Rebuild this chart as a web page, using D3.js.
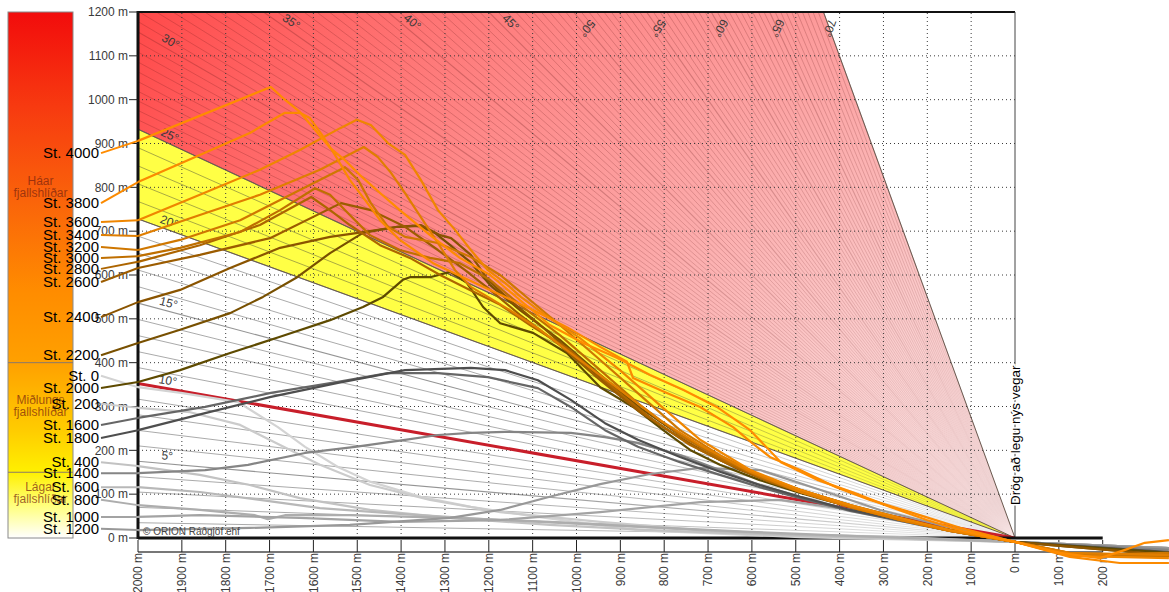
<!DOCTYPE html>
<html><head><meta charset="utf-8">
<script src="https://cdn.jsdelivr.net/npm/d3@7"></script>
<style>
body{margin:0;background:#fff;}
svg{display:block;font-family:"Liberation Sans",Arial,sans-serif;}
</style>
</head><body>
<svg id="c" width="1169" height="592"></svg>
<script>
// ---------------- DATA ----------------
const stations = ["St. 0","St. 200","St. 400","St. 600","St. 800","St. 1000","St. 1200","St. 1400","St. 1600","St. 1800",
  "St. 2000","St. 2200","St. 2400","St. 2600","St. 2800","St. 3000","St. 3200","St. 3400","St. 3600","St. 3800","St. 4000"];

// profiles: [distance from road (m), elevation (m)]
const st0 = [[2000,344],[1902,331],[1772,310],[1681,253],[1619,208],[1544,162],[1469,128],[1355,94],[1241,71],[1088,48],[860,18],[490,2],[0,-9],[-351,-23]];
const st200 = [[2000,297],[1881,287],[1767,258],[1676,212],[1585,167],[1471,121],[1334,87],[1174,59],[946,37],[718,18],[376,2],[0,-9],[-351,-23]];
const st400 = [[2000,164],[1859,144],[1745,121],[1631,91],[1471,64],[1288,46],[1061,30],[832,18],[490,5],[0,-9],[-351,-23]];
const st600 = [[2000,116],[1859,105],[1722,87],[1585,68],[1403,55],[1174,41],[946,30],[718,18],[490,7],[262,2],[0,-9],[-351,-23]];
const st800 = [[2000,75],[1859,64],[1733,52],[1704,43],[1665,52],[1517,52],[1288,46],[1061,37],[832,25],[604,14],[376,5],[0,-9],[-351,-23]];
const st1000 = [[2000,48],[1859,52],[1631,46],[1403,37],[1174,41],[946,59],[718,82],[536,87],[376,64],[217,30],[0,-9],[-351,-23]];
const st1200 = [[2000,18],[1745,23],[1517,30],[1288,46],[1174,64],[1061,94],[946,123],[832,146],[718,160],[582,155],[445,110],[308,64],[171,30],[0,-9],[-351,-23]];
const st1400 = [[2000,148],[1847,155],[1749,167],[1619,194],[1505,208],[1391,224],[1316,235],[1241,240],[1163,242],[1013,240],[935,230],[860,217],[764,189],[673,155],[582,121],[490,94],[376,64],[262,41],[148,18],[0,-9],[-351,-27]];
const st1600 = [[2000,274],[1847,299],[1697,331],[1544,356],[1430,376],[1316,376],[1202,367],[1088,342],[1013,299],[935,246],[860,208],[764,173],[673,144],[582,116],[490,91],[376,62],[262,39],[148,16],[0,-9],[-351,-32]];
const st1800 = [[2000,246],[1847,285],[1697,322],[1544,354],[1391,383],[1241,388],[1163,383],[1088,360],[1013,315],[935,262],[860,224],[764,185],[673,151],[582,121],[490,94],[376,64],[262,41],[148,18],[0,-9],[-351,-32]];
const st2000 = [[2000,356],[1904,383],[1790,422],[1676,459],[1562,497],[1487,527],[1441,550],[1396,589],[1380,595],[1334,595],[1288,607],[1250,582],[1213,527],[1174,490],[1099,468],[1022,422],[946,344],[871,299],[794,240],[741,201],[673,167],[582,132],[490,103],[376,71],[262,43],[148,18],[0,-9],[-351,-34]];
const st2200 = [[2000,445],[1904,475],[1790,513],[1715,550],[1637,595],[1562,650],[1487,696],[1409,710],[1357,712],[1323,696],[1288,668],[1243,630],[1197,577],[1129,520],[1038,452],[946,372],[855,297],[764,235],[673,183],[582,141],[490,110],[376,75],[262,46],[148,18],[0,-9],[-351,-39]];
const st2400 = [[2000,538],[1904,566],[1790,616],[1676,662],[1562,687],[1487,698],[1407,710],[1355,714],[1311,691],[1286,684],[1241,646],[1202,589],[1152,543],[1083,486],[992,406],[901,326],[810,258],[718,201],[627,155],[536,121],[445,91],[331,59],[217,32],[103,9],[0,-9],[-351,-39]];
const st2600 = [[2000,616],[1859,646],[1699,684],[1537,764],[1469,748],[1391,710],[1316,657],[1254,611],[1197,566],[1129,509],[1038,440],[946,360],[855,287],[764,228],[673,178],[582,137],[490,105],[376,71],[262,41],[148,16],[0,-9],[-148,-41],[-351,-41]];
const st2800 = [[2000,630],[1859,668],[1722,714],[1605,778],[1562,748],[1517,714],[1448,668],[1380,639],[1311,600],[1243,566],[1174,532],[1106,486],[1015,429],[924,349],[832,274],[741,212],[650,167],[559,128],[468,98],[353,64],[239,37],[125,14],[0,-9],[-148,-39],[-351,-39]];
const st3000 = [[2000,643],[1904,662],[1767,698],[1676,748],[1596,798],[1562,783],[1517,737],[1471,691],[1403,657],[1334,639],[1266,627],[1197,589],[1129,532],[1038,463],[946,383],[855,303],[764,235],[673,183],[582,139],[490,105],[376,71],[262,41],[148,16],[0,-9],[-148,-41],[-351,-41]];
const st3200 = [[2000,657],[1904,680],[1767,725],[1631,794],[1528,846],[1498,817],[1469,764],[1430,710],[1391,687],[1316,673],[1241,641],[1174,600],[1106,543],[1038,486],[946,406],[855,326],[764,246],[673,189],[582,144],[490,110],[376,75],[262,41],[148,16],[0,-9],[-148,-39],[-351,-34]];
const st3400 = [[2000,689],[1859,737],[1722,783],[1585,840],[1485,892],[1453,869],[1423,833],[1391,787],[1355,732],[1316,673],[1277,611],[1241,573],[1202,550],[1152,520],[1083,475],[992,406],[901,338],[810,269],[718,212],[604,151],[490,105],[376,71],[262,41],[148,16],[0,-9],[-125,-34],[-351,-39]];
const st3600 = [[2000,725],[1859,783],[1722,840],[1631,885],[1539,935],[1501,954],[1469,942],[1430,901],[1391,874],[1355,817],[1316,748],[1277,703],[1241,657],[1202,611],[1163,582],[1127,550],[1065,504],[992,456],[901,383],[810,303],[718,224],[604,155],[490,110],[376,75],[262,46],[148,18],[0,-9],[-125,-41],[-351,-46]];
const st3800 = [[2000,812],[1859,874],[1745,924],[1665,970],[1631,970],[1608,958],[1580,919],[1551,874],[1517,817],[1482,771],[1448,725],[1403,680],[1327,627],[1213,573],[1099,520],[1022,481],[946,436],[885,402],[871,365],[794,331],[718,299],[643,253],[600,217],[559,185],[490,155],[408,116],[331,87],[239,59],[125,23],[0,-9],[-125,-43],[-239,-57],[-351,-57]];
const st4000 = [[2000,906],[1697,1029],[1672,1006],[1631,972],[1596,931],[1562,890],[1528,862],[1494,828],[1448,787],[1403,748],[1334,691],[1266,639],[1197,600],[1129,543],[1061,486],[985,445],[908,411],[832,372],[757,338],[680,299],[604,246],[534,173],[449,132],[367,103],[285,71],[201,41],[119,16],[0,-9],[-103,-34],[-194,-46],[-251,-27],[-296,-11],[-351,-5]];

const profiles = [st0,st200,st400,st600,st800,st1000,st1200,st1400,st1600,st1800,st2000,st2200,st2400,st2600,st2800,st3000,st3200,st3400,st3600,st3800,st4000];

// styles / layout (kept separate from values)
const stationColors = ["#d3d3d3","#cbcbcb","#c2c2c2","#b8b8b8","#adadad","#a3a3a3","#989898","#858585","#666666","#4e4e4e",
  "#5e4a00","#785000","#8a5400","#9c5c00","#ad6500","#bf6f00","#cf7700","#e07e00","#ef8600","#fb8a00","#ff8c00"];
const labelAltitudes = [370,306,173,116,87,48,21,148,258,228,342,417,504,584,614,639,664,691,721,764,878];

const distanceTicks = d3.range(-200, 2001, 100);
const heightTicks = d3.range(0, 1201, 100);
const angleLabels = [5,10,15,20,25,30,35,40,45,50,55,60,65,70];
const zoneBounds = [150, 400];
const zoneNames = [["Háar","fjallshlíðar"],["Miðlungs","fjallshlíðar"],["Lágar","fjallshlíðar"]];
const zoneLabelAlt = [801, 301, 103];
const roadLabel = "Drög að legu nýs vegar";
const copyright = "© ORION Ráðgjöf ehf";

// ---------------- CHART ----------------
const svg = d3.select("#c");
const x = d3.scaleLinear().domain([2000, 0]).range([138, 1015]);
const y = d3.scaleLinear().domain([0, 1200]).range([538, 12]);
const rad = a => a * Math.PI / 180;
const fanEnd = a => { const t = Math.tan(rad(a)); return 2000 * t <= 1200 ? [2000, 2000 * t] : [1200 / t, 1200]; };

const defs = svg.append("defs");
const lg = defs.append("linearGradient").attr("id","legG").attr("x1",0).attr("y1",0).attr("x2",0).attr("y2",1);
[[0,"#f20c0c"],[0.18,"#f73a10"],[0.36,"#fa640a"],[0.53,"#ff8c00"],[0.665,"#ffa000"],[0.795,"#ffcc00"],[0.875,"#fff000"],[0.94,"#ffff80"],[1,"#ffffff"]]
  .forEach(s => lg.append("stop").attr("offset", s[0]).attr("stop-color", s[1]));
const rg = defs.append("radialGradient").attr("id","redG").attr("gradientUnits","userSpaceOnUse")
  .attr("cx", x(0)).attr("cy", y(0)).attr("r", 1030);
[[0,"#fcecec"],[0.25,"#fbcaca"],[0.45,"#fca8a8"],[0.65,"#fe8888"],[0.85,"#ff6464"],[1,"#ff4848"]]
  .forEach(s => rg.append("stop").attr("offset", s[0]).attr("stop-color", s[1]));
// fade of the slope lines towards the road point
const fg = defs.append("radialGradient").attr("id","fadeG").attr("gradientUnits","userSpaceOnUse")
  .attr("cx", x(0)).attr("cy", y(0)).attr("r", 1030);
[[0,"#000"],[0.04,"#333"],[0.3,"#bbb"],[0.55,"#fff"],[1,"#fff"]]
  .forEach(s => fg.append("stop").attr("offset", s[0]).attr("stop-color", s[1]));
defs.append("mask").attr("id","fadeM").attr("maskUnits","userSpaceOnUse")
  .attr("x",0).attr("y",0).attr("width",1169).attr("height",592)
  .append("rect").attr("width",1169).attr("height",592).attr("fill","url(#fadeG)");
defs.append("clipPath").attr("id","frame").append("rect")
  .attr("x", x(2000)).attr("y", y(1200)).attr("width", x(0)-x(2000)).attr("height", y(0)-y(1200));

svg.append("rect").attr("width",1169).attr("height",592).attr("fill","#fff");

// legend column
const leg = svg.append("g");
leg.append("rect").attr("x",8).attr("y",y(1200)).attr("width",65).attr("height",y(0)-y(1200))
  .attr("fill","url(#legG)").attr("stroke","#8a8a8a").attr("stroke-width",1);
zoneBounds.forEach(b => leg.append("line").attr("x1",8).attr("x2",73).attr("y1",y(b)).attr("y2",y(b))
  .attr("stroke","#8a7a6a").attr("stroke-width",1));
zoneNames.forEach((nm,i) => {
  nm.forEach((t,j) => leg.append("text").attr("x",40.5).attr("y", y(zoneLabelAlt[i]) + (j - 0.5) * 12)
    .attr("dy","0.35em").attr("text-anchor","middle").attr("font-size",12)
    .attr("fill","rgba(120,35,15,0.72)").text(t));
});

// zones
const plot = svg.append("g").attr("clip-path","url(#frame)");
const t25 = Math.tan(rad(25)), t20 = Math.tan(rad(20)), t70 = Math.tan(rad(70));
const poly = d3.line().x(p => x(p[0])).y(p => y(p[1]));
plot.append("path").attr("d", poly([[0,0],[2000,2000*t25],[2000,1200],[1200/t70,1200]]) + "Z").attr("fill","url(#redG)");
plot.append("path").attr("d", poly([[0,0],[2000,2000*t20],[2000,2000*t25]]) + "Z").attr("fill","#ffff45");

// fan of slope lines
const fanAngles = [];
for (let a = 1; a <= 70; a += (a >= 25 ? 0.5 : 1)) fanAngles.push(a);
const fanG = plot.append("g").attr("mask","url(#fadeM)");
fanG.selectAll("line.fan").data(fanAngles).join("line").attr("class","fan")
  .attr("x1", x(0)).attr("y1", y(0))
  .attr("x2", a => x(fanEnd(a)[0])).attr("y2", a => y(fanEnd(a)[1]))
  .attr("stroke", a => a > 25 ? "rgba(100,25,25,0.28)" : "rgba(60,60,60,0.55)")
  .attr("stroke-width", a => a % 5 === 0 ? 1.1 : 0.8);
[20,25,70].forEach(a => plot.append("line").attr("x1",x(0)).attr("y1",y(0))
  .attr("x2",x(fanEnd(a)[0])).attr("y2",y(fanEnd(a)[1])).attr("stroke","#6a5a50").attr("stroke-width",1));

// dotted grid
distanceTicks.filter(d => d > 0 && d < 2000).forEach(d => plot.append("line")
  .attr("x1",x(d)).attr("x2",x(d)).attr("y1",y(0)).attr("y2",y(1200))
  .attr("stroke","#3a3a3a").attr("stroke-width",1).attr("stroke-dasharray","1,3"));
heightTicks.filter(h => h > 0 && h < 1200).forEach(h => plot.append("line")
  .attr("x1",x(2000)).attr("x2",x(0)).attr("y1",y(h)).attr("y2",y(h))
  .attr("stroke","#3a3a3a").attr("stroke-width",1).attr("stroke-dasharray","1,3"));

// 10 degree line
plot.append("line").attr("x1",x(0)).attr("y1",y(0)).attr("x2",x(fanEnd(10)[0])).attr("y2",y(fanEnd(10)[1]))
  .attr("stroke","#c81e2a").attr("stroke-width",3);

// angle labels
angleLabels.forEach(a => {
  const t = Math.tan(rad(a));
  const p = 1935 * t <= 1160 ? [1935, 1935 * t] : [1163 / t, 1163];
  const rot = a <= 45 ? a : 180 - a;
  svg.append("text").attr("transform", `translate(${x(p[0])},${y(p[1])}) rotate(${rot})`)
    .attr("dy", a <= 45 ? -4 : 4).attr("text-anchor","middle").attr("font-size",12).attr("fill","#3a3a3a").text(a + "°");
});

// frame
svg.append("line").attr("x1",x(2000)).attr("x2",x(0)).attr("y1",y(1200)).attr("y2",y(1200)).attr("stroke","#111").attr("stroke-width",2);
svg.append("line").attr("x1",x(2000)).attr("x2",x(2000)).attr("y1",y(1200)-1).attr("y2",y(0)+1).attr("stroke","#111").attr("stroke-width",3);
svg.append("line").attr("x1",x(0)).attr("x2",x(0)).attr("y1",y(1200)).attr("y2",y(0)).attr("stroke","#444").attr("stroke-width",1);
svg.append("line").attr("x1",x(2000)).attr("x2",x(-200)).attr("y1",y(0)).attr("y2",y(0)).attr("stroke","#111").attr("stroke-width",3);

// y axis
heightTicks.forEach(h => {
  svg.append("line").attr("x1",129).attr("x2",x(2000)).attr("y1",y(h)).attr("y2",y(h)).attr("stroke","#222").attr("stroke-width",1);
  svg.append("text").attr("x",128).attr("y",y(h)).attr("dy","0.35em").attr("text-anchor","end")
    .attr("font-size",12).attr("fill","#3a3a3a").text(h + " m");
});

// x axis
const xAxisY = 552;
svg.append("line").attr("x1",x(2000)).attr("x2",x(-200)).attr("y1",xAxisY).attr("y2",xAxisY).attr("stroke","#777").attr("stroke-width",2);
distanceTicks.forEach(d => {
  svg.append("line").attr("x1",x(d)).attr("x2",x(d)).attr("y1",y(0)+2).attr("y2",xAxisY).attr("stroke","#222").attr("stroke-width",1);
  svg.append("text").attr("transform",`translate(${x(d)},${xAxisY+1}) rotate(-90)`)
    .attr("dy","0.35em").attr("text-anchor","end").attr("font-size",12).attr("fill","#3a3a3a").text(Math.abs(d) + " m");
});

// profiles
const line = d3.line().x(p => x(p[0])).y(p => y(p[1]));
profiles.forEach((pr, i) => {
  svg.append("path").attr("d", line(pr)).attr("fill","none").attr("stroke", stationColors[i])
    .attr("stroke-width", 2.2).attr("stroke-linejoin","round");
});

// station labels + leaders
profiles.forEach((pr, i) => {
  svg.append("line").attr("x1",101).attr("y1",y(labelAltitudes[i])).attr("x2",x(pr[0][0])).attr("y2",y(pr[0][1]))
    .attr("stroke",stationColors[i]).attr("stroke-width",2);
});
profiles.forEach((pr, i) => {
  svg.append("text").attr("x",99).attr("y",y(labelAltitudes[i])).attr("dy","0.35em").attr("text-anchor","end")
    .attr("font-size",15).attr("fill","#000").text(stations[i]);
});

// road label
svg.append("text").attr("transform",`translate(${x(0)+5},${y(0)-33}) rotate(-90)`)
  .attr("font-size",13.5).attr("fill","#000")
  .attr("stroke","#fff").attr("stroke-width",3).attr("paint-order","stroke").text(roadLabel);

// copyright
svg.append("text").attr("x",x(2000)+5).attr("y",y(0)-3).attr("font-size",10).attr("fill","#444").text(copyright);
</script>
</body></html>
